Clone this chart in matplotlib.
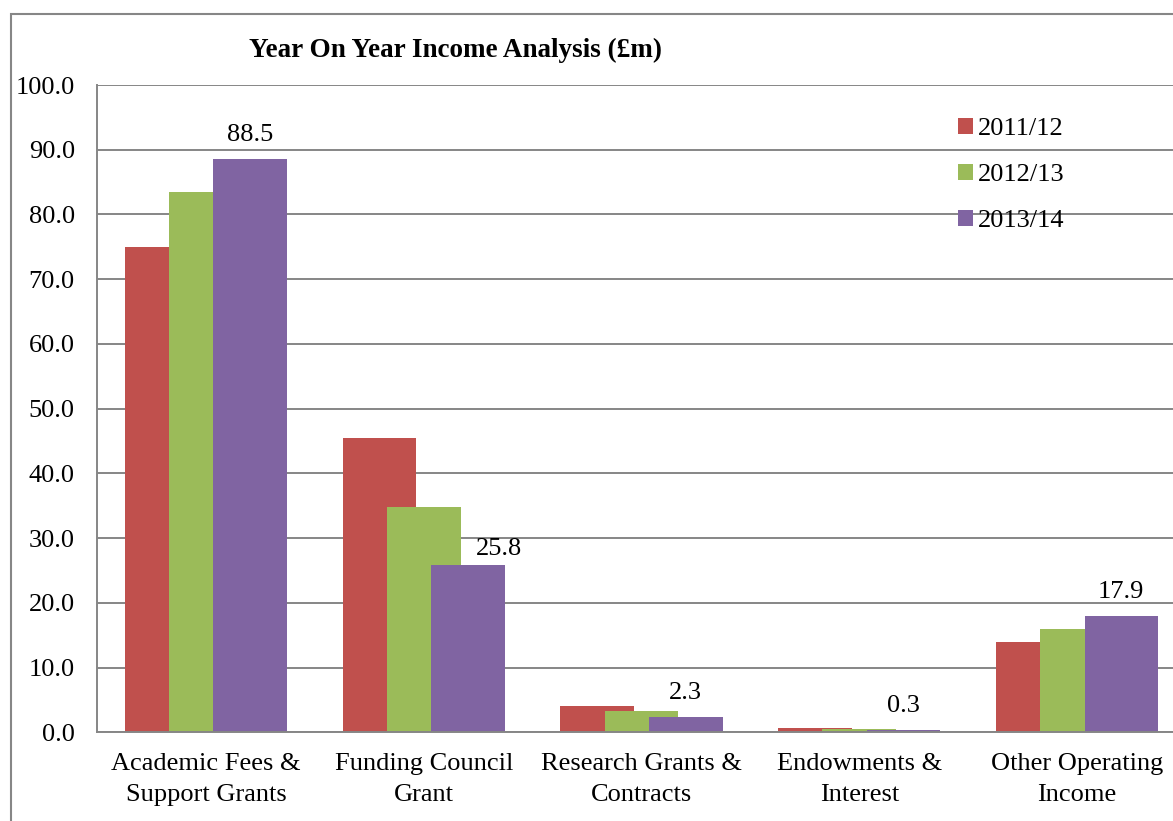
import matplotlib
matplotlib.use("Agg")
import matplotlib.pyplot as plt
from matplotlib.patches import Rectangle
import numpy as np

# income by category, £m
categories = ["Academic Fees &\nSupport Grants", "Funding Council\nGrant",
              "Research Grants &\nContracts", "Endowments &\nInterest",
              "Other Operating\nIncome"]
years = ["2011/12", "2012/13", "2013/14"]
income_2011 = [74.9, 45.5, 4.0, 0.7, 13.9]
income_2012 = [83.4, 34.8, 3.3, 0.5, 16.0]
income_2013 = [88.5, 25.8, 2.3, 0.3, 17.9]
yticks = [0, 10, 20, 30, 40, 50, 60, 70, 80, 90, 100]

colors = ["#C0504D", "#9BBB59", "#8064A2"]
grey = "#868686"
# nudge (px) for the 2013/14 value labels, one label sits off to the side
label_nudge = [(0, 0), (31, -8), (0, 0), (0, 0), (0, 0)]
fs = 19

plt.rcParams["font.family"] = ["Liberation Serif", "DejaVu Serif"]

W, H = 1173, 821
fig = plt.figure(figsize=(W / 100, H / 100), dpi=100)

# outer chart border, runs off the right and bottom edges
fig.patches.append(Rectangle((11 / W, -0.1), 1.2, 1 - 14 / H + 0.1,
                             transform=fig.transFigure, fill=False,
                             edgecolor=grey, linewidth=1.5))

ax = fig.add_axes([97 / W, 1 - 732.3 / H, 5 * 217.8 / W, (732.3 - 85) / H])

x = np.arange(len(categories))
width = 0.338
step = 0.203
series = [income_2011, income_2012, income_2013]
bars = []
for i, (vals, col) in enumerate(zip(series, colors)):
    b = ax.bar(x + (i - 1) * step, vals, width, color=col, label=years[i], zorder=3 + i)
    bars.append(b)

for rect, val, (dx, dy) in zip(bars[2], income_2013, label_nudge):
    ax.annotate(f"{val:.1f}", (rect.get_x() + rect.get_width() / 2, rect.get_height()),
                xytext=(dx * 0.72, 13 + dy * 0.72), textcoords="offset points",
                ha="center", va="baseline", fontsize=fs, zorder=10)

ax.set_xlim(-0.5, 4.5)
ax.set_ylim(0, 100)
ax.set_yticks(yticks)
ax.set_yticklabels([f"{v:.1f}" for v in yticks])
ax.set_xticks(x)
ax.set_xticklabels(categories, linespacing=1.52)
ax.tick_params(axis="y", length=0, pad=16, labelsize=fs)
ax.tick_params(axis="x", length=0, pad=15, labelsize=fs)
ax.yaxis.grid(True, color=grey, linewidth=1.4, zorder=0)
ax.set_axisbelow(True)
for s in ["top", "right"]:
    ax.spines[s].set_visible(False)
for s in ["left", "bottom"]:
    ax.spines[s].set_color(grey)
    ax.spines[s].set_linewidth(1.4)
    ax.spines[s].set_zorder(8)

fig.text(456 / W, 1 - 50 / H, "Year On Year Income Analysis (£m)",
         ha="center", va="center", fontsize=19.5, fontweight="bold")

ax.legend(loc="upper left", bbox_to_anchor=(958 / W, 1 - 118 / H),
          bbox_transform=fig.transFigure, frameon=False, fontsize=fs,
          handlelength=0.55, handleheight=0.55, handletextpad=0.2,
          labelspacing=0.9, borderpad=0, borderaxespad=0)

fig.savefig("out.png", dpi=100)
